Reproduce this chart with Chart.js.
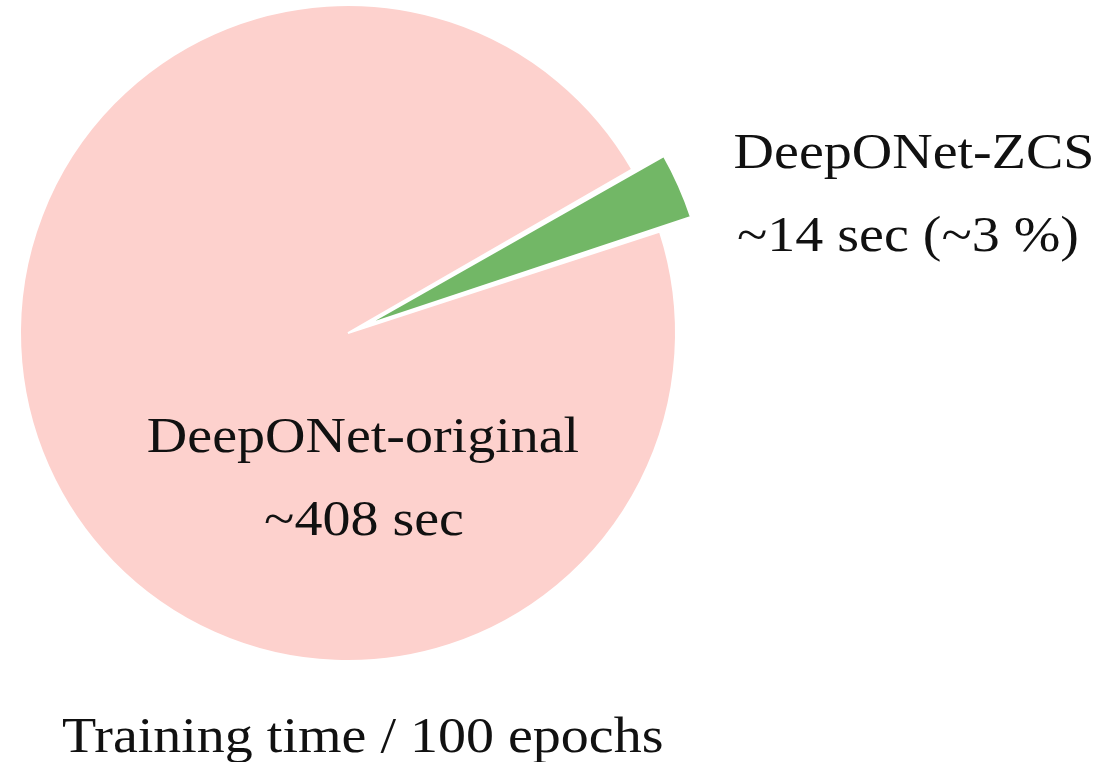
<!DOCTYPE html>
<html>
<head>
<meta charset="utf-8">
<script src="https://cdn.jsdelivr.net/npm/chart.js@4"></script>
<style>
  html, body { margin: 0; padding: 0; background: #ffffff; }
  #wrap { width: 1119px; height: 762px; position: relative; }
</style>
</head>
<body>
<div id="wrap"><canvas id="c" width="1119" height="762"></canvas></div>
<script>
const categories = ["DeepONet-original", "DeepONet-ZCS"];
const seconds = [408, 14];
const valueLabels = ["~408 sec", "~14 sec (~3 %)"];
const captionText = "Training time / 100 epochs";
const sliceColors = ["#FDD1CD", "#72B766"];

const FONT = '"Liberation Serif", "Times New Roman", serif';

function drawText(ctx, text, x, y, size, align) {
  const sx = 1.12;
  ctx.save();
  ctx.font = size + 'px ' + FONT;
  ctx.fillStyle = '#111111';
  ctx.textBaseline = 'alphabetic';
  const w = ctx.measureText(text).width * sx;
  let left = x;
  if (align === 'center') left = x - w / 2;
  ctx.translate(left, y);
  ctx.scale(sx, 1);
  ctx.textAlign = 'left';
  ctx.fillText(text, 0, 0);
  ctx.restore();
}

const labelPlugin = {
  id: 'labelPlugin',
  afterDraw(chart) {
    const ctx = chart.ctx;
    const arcs = chart.getDatasetMeta(0).data;
    const a0 = arcs[0];
    const cx = a0.x, cy = a0.y;
    drawText(ctx, categories[0], cx + 15, cy + 119, 50, 'center');
    drawText(ctx, valueLabels[0], cx + 16, cy + 202, 50, 'center');
    drawText(ctx, categories[1], cx + 566, cy - 165, 50, 'center');
    drawText(ctx, valueLabels[1], cx + 560, cy - 82, 50, 'center');
    drawText(ctx, captionText, 62, 752, 50, 'left');
  }
};

new Chart(document.getElementById('c'), {
  type: 'pie',
  data: {
    labels: categories,
    datasets: [{
      data: seconds,
      backgroundColor: sliceColors,
      borderColor: '#ffffff',
      borderWidth: 2,
      offset: [0, 76],
      hoverOffset: 0
    }]
  },
  options: {
    responsive: false,
    animation: false,
    rotation: 72,
    radius: 328,
    layout: { padding: { left: 0, right: 423, top: 0, bottom: 96 } },
    plugins: {
      legend: { display: false },
      tooltip: { enabled: false },
      title: { display: false }
    }
  },
  plugins: [labelPlugin]
});
</script>
</body>
</html>
